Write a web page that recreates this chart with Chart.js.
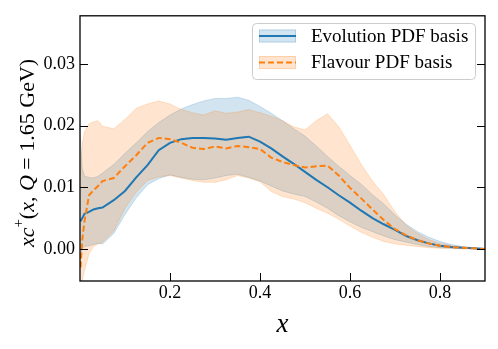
<!DOCTYPE html>
<html>
<head>
<meta charset="utf-8">
<script src="https://cdn.jsdelivr.net/npm/chart.js@4.4.0/dist/chart.umd.min.js"></script>
<style>
  html, body { margin: 0; padding: 0; background: #fff; }
</style>
</head>
<body>
<canvas id="pdfChart" width="498" height="349"></canvas>
<script>
// x grid shared by every curve
const xs = [0.001, 0.005, 0.01, 0.02, 0.03, 0.04, 0.05, 0.075, 0.1, 0.125, 0.15, 0.175, 0.2, 0.225, 0.25, 0.275,
  0.3, 0.325, 0.35, 0.375, 0.4, 0.425, 0.45, 0.475, 0.5, 0.525, 0.55, 0.575, 0.6, 0.625, 0.65, 0.675,
  0.7, 0.725, 0.75, 0.775, 0.8, 0.825, 0.85, 0.875, 0.9];

// Evolution PDF basis
const evoCentral = [0.0045, 0.005, 0.0057, 0.006, 0.0064, 0.0066, 0.0067, 0.0079, 0.0094, 0.0116, 0.0136, 0.016, 0.0172, 0.0178, 0.018, 0.018,
  0.0179, 0.0177, 0.018, 0.0182, 0.0174, 0.0163, 0.015, 0.0138, 0.0125, 0.0112, 0.01, 0.0087, 0.0075, 0.0062, 0.005, 0.004,
  0.0031, 0.0021, 0.0014, 0.0009, 0.0005, 0.0003, 0.0002, 0.0001, 0.0];
const evoUpper = [0.018, 0.013, 0.0118, 0.0116, 0.0115, 0.0118, 0.0123, 0.0137, 0.0155, 0.0172, 0.019, 0.0205, 0.0217, 0.0227, 0.0234, 0.024,
  0.0244, 0.0244, 0.0246, 0.0241, 0.0231, 0.022, 0.0208, 0.0195, 0.0183, 0.0167, 0.015, 0.0134, 0.0119, 0.0105, 0.0088, 0.0073,
  0.0055, 0.004, 0.0028, 0.0019, 0.0012, 0.0007, 0.0004, 0.0002, 0.0];
const evoLower = [-0.001, 0.0, 0.0004, 0.0005, 0.0007, 0.0009, 0.0008, 0.0025, 0.0056, 0.0083, 0.0104, 0.0114, 0.012, 0.0116, 0.0113, 0.0112,
  0.0115, 0.0119, 0.0121, 0.0116, 0.011, 0.0102, 0.0094, 0.0089, 0.0085, 0.0076, 0.0066, 0.0054, 0.0044, 0.0035, 0.0028, 0.0021,
  0.0015, 0.0011, 0.0007, 0.0004, 0.0002, 0.0001, 0.0001, 0.0, 0.0];

// Flavour PDF basis
const flavCentral = [-0.003, 0.0015, 0.0045, 0.0087, 0.0095, 0.0102, 0.011, 0.0115, 0.0134, 0.0152, 0.0172, 0.018, 0.0178, 0.0172, 0.0164, 0.0162,
  0.0166, 0.0163, 0.0167, 0.0165, 0.0162, 0.0148, 0.0141, 0.0136, 0.0132, 0.0134, 0.0135, 0.0119, 0.0099, 0.0082, 0.0064, 0.0047,
  0.0032, 0.0022, 0.0014, 0.0009, 0.0005, 0.0003, 0.0002, 0.0001, 0.0];
const flavUpper = [0.012, 0.017, 0.019, 0.0203, 0.0206, 0.0208, 0.0199, 0.0195, 0.021, 0.0228, 0.0235, 0.024, 0.0235, 0.0226, 0.0221, 0.0217,
  0.0224, 0.022, 0.0222, 0.0226, 0.0221, 0.0215, 0.0208, 0.0198, 0.0193, 0.0208, 0.0219, 0.0198, 0.0168, 0.0137, 0.011, 0.0088,
  0.006, 0.0038, 0.0025, 0.0015, 0.0009, 0.0005, 0.0003, 0.0001, 0.0];
const flavLower = [-0.006, -0.0052, -0.0035, -0.0008, 0.0004, 0.0008, 0.0011, 0.0029, 0.0066, 0.0092, 0.0111, 0.0117, 0.0119, 0.0115, 0.0111, 0.0108,
  0.0108, 0.0112, 0.0119, 0.0115, 0.0109, 0.0093, 0.0085, 0.0081, 0.0075, 0.0066, 0.0058, 0.0048, 0.0037, 0.0027, 0.0019, 0.0012,
  0.0008, 0.0006, 0.0004, 0.0002, 0.0001, 0.0001, 0.0, 0.0, 0.0];

const xTicks = [0.2, 0.4, 0.6, 0.8];
const yTicks = [0.0, 0.01, 0.02, 0.03];
const seriesNames = ['Evolution PDF basis', 'Flavour PDF basis'];

const BLUE = '#1f77b4';
const ORANGE = '#ff7f0e';
const BLUE_BAND = 'rgba(31,119,180,0.2)';
const ORANGE_BAND = 'rgba(255,127,14,0.2)';
const SERIF = '"Liberation Serif", "DejaVu Serif", serif';

function pts(arr) {
  return xs.map((x, i) => ({ x: x, y: arr[i] }));
}

function bandEdge(arr, color, fillTo, order) {
  return {
    data: pts(arr),
    borderColor: color,
    backgroundColor: color,
    borderWidth: 1,
    pointRadius: 0,
    fill: fillTo === null ? false : fillTo,
    order: order
  };
}

// ticks pointing inwards, frame, legend and y title (matplotlib look)
const decorPlugin = {
  id: 'decor',
  afterDraw(chart) {
    const ctx = chart.ctx;
    const a = chart.chartArea;
    const xs_ = chart.scales.x;
    const ys_ = chart.scales.y;
    ctx.save();
    ctx.strokeStyle = '#000';
    ctx.lineWidth = 1;
    xTicks.forEach(v => {
      const px = Math.round(xs_.getPixelForValue(v)) + 0.5;
      ctx.beginPath();
      ctx.moveTo(px, a.bottom);
      ctx.lineTo(px, a.bottom - 8);
      ctx.stroke();
    });
    yTicks.forEach(v => {
      const py = Math.round(ys_.getPixelForValue(v)) + 0.5;
      ctx.beginPath();
      ctx.moveTo(a.left, py);
      ctx.lineTo(a.left + 8, py);
      ctx.moveTo(a.right, py);
      ctx.lineTo(a.right - 8, py);
      ctx.stroke();
    });
    ctx.lineWidth = 1.3;
    ctx.strokeRect(a.left, a.top, a.right - a.left, a.bottom - a.top);

    // legend
    const lx = 252, ly = 23, lw = 223, lh = 56;
    ctx.beginPath();
    ctx.roundRect(lx + 0.5, ly + 0.5, lw, lh, 4);
    ctx.fillStyle = 'rgba(255,255,255,0.8)';
    ctx.fill();
    ctx.strokeStyle = '#cccccc';
    ctx.lineWidth = 1;
    ctx.stroke();
    const rows = [
      { y: 36, band: BLUE_BAND, line: BLUE, dash: [] },
      { y: 62.5, band: ORANGE_BAND, line: ORANGE, dash: [6, 3] }
    ];
    rows.forEach((r, i) => {
      ctx.fillStyle = r.band;
      ctx.fillRect(259, r.y - 6.5, 37, 13);
      ctx.strokeStyle = r.band;
      ctx.strokeRect(259.5, r.y - 6, 36, 12);
      ctx.beginPath();
      ctx.setLineDash(r.dash);
      ctx.strokeStyle = r.line;
      ctx.lineWidth = 2;
      ctx.moveTo(259, r.y);
      ctx.lineTo(296, r.y);
      ctx.stroke();
      ctx.setLineDash([]);
      ctx.lineWidth = 1;
      ctx.fillStyle = '#000';
      ctx.font = '19px ' + SERIF;
      ctx.textBaseline = 'middle';
      ctx.textAlign = 'left';
      ctx.fillText(seriesNames[i], 311, r.y + 1);
    });

    // y axis title: xc^+(x, Q = 1.65 GeV)
    const segs = [
      { t: 'xc', f: 'italic 22px ' + SERIF, dy: 0 },
      { t: '+', f: '15px ' + SERIF, dy: -9 },
      { t: '(', f: '22px ' + SERIF, dy: 0 },
      { t: 'x', f: 'italic 22px ' + SERIF, dy: 0 },
      { t: ', ', f: '22px ' + SERIF, dy: 0 },
      { t: 'Q', f: 'italic 22px ' + SERIF, dy: 0 },
      { t: ' = 1.65 GeV)', f: '22px ' + SERIF, dy: 0 }
    ];
    let total = 0;
    segs.forEach(s => { ctx.font = s.f; s.w = ctx.measureText(s.t).width; total += s.w; });
    ctx.translate(28, 153);
    ctx.rotate(-Math.PI / 2);
    ctx.fillStyle = '#000';
    ctx.textBaseline = 'middle';
    let cx = -total / 2;
    segs.forEach(s => {
      ctx.font = s.f;
      ctx.fillText(s.t, cx, s.dy);
      cx += s.w;
    });
    ctx.restore();
  }
};

const ctx = document.getElementById('pdfChart').getContext('2d');
const chart = new Chart(ctx, {
  type: 'line',
  data: {
    datasets: [
      bandEdge(evoUpper, BLUE_BAND, 1, 4),
      bandEdge(evoLower, BLUE_BAND, null, 4),
      bandEdge(flavUpper, ORANGE_BAND, 3, 3),
      bandEdge(flavLower, ORANGE_BAND, null, 3),
      {
        label: seriesNames[0],
        data: pts(evoCentral),
        borderColor: BLUE,
        borderWidth: 2,
        pointRadius: 0,
        fill: false,
        order: 1
      },
      {
        label: seriesNames[1],
        data: pts(flavCentral),
        borderColor: ORANGE,
        borderWidth: 2,
        borderDash: [6, 3],
        pointRadius: 0,
        fill: false,
        order: 0
      }
    ]
  },
  options: {
    responsive: false,
    animation: false,
    devicePixelRatio: 1,
    layout: { padding: { left: 0, top: 14, right: 13, bottom: 0 } },
    plugins: {
      legend: { display: false },
      tooltip: { enabled: false }
    },
    scales: {
      x: {
        type: 'linear',
        min: 0,
        max: 0.9,
        afterBuildTicks: s => { s.ticks = xTicks.map(v => ({ value: v })); },
        afterFit: s => { s.height = 68; },
        grid: { display: false, drawTicks: false },
        border: { display: false },
        ticks: {
          callback: v => v.toFixed(1),
          color: '#000',
          font: { family: SERIF, size: 18 },
          padding: 1,
          maxRotation: 0
        },
        title: {
          display: true,
          text: 'x',
          color: '#000',
          font: { family: SERIF, size: 27, style: 'italic' },
          padding: { top: 2, bottom: 8 }
        }
      },
      y: {
        min: -0.0052,
        max: 0.0378,
        afterBuildTicks: s => { s.ticks = yTicks.map(v => ({ value: v })); },
        afterFit: s => { s.width = 80; },
        grid: { display: false, drawTicks: false },
        border: { display: false },
        ticks: {
          callback: v => v.toFixed(2),
          color: '#000',
          font: { family: SERIF, size: 18 },
          padding: 5
        }
      }
    }
  },
  plugins: [decorPlugin]
});
</script>
</body>
</html>
